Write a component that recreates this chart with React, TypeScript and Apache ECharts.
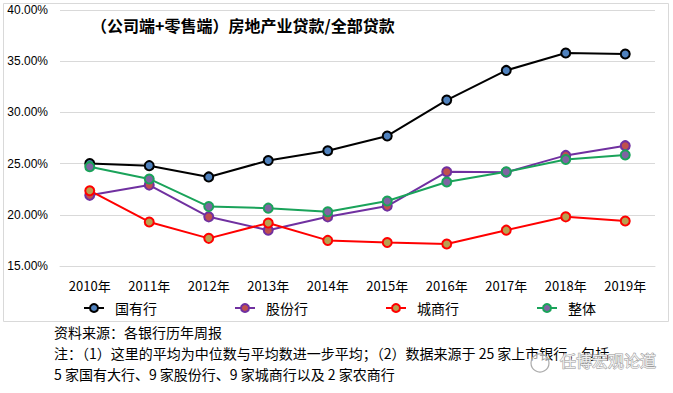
import React, { useEffect, useRef } from "react";
import * as echarts from "echarts";

const categories = ["2010年", "2011年", "2012年", "2013年", "2014年", "2015年", "2016年", "2017年", "2018年", "2019年"];
const stateOwned = [25.0, 24.8, 23.7, 25.3, 26.25, 27.7, 31.2, 34.1, 35.8, 35.7];
const jointStock = [21.9, 22.9, 19.8, 18.5, 19.8, 20.85, 24.2, 24.15, 25.8, 26.75];
const cityBanks = [22.35, 19.3, 17.7, 19.2, 17.5, 17.3, 17.15, 18.5, 19.8, 19.4];
const overall = [24.7, 23.5, 20.8, 20.65, 20.3, 21.35, 23.2, 24.2, 25.4, 25.85];
const seriesNames = ["国有行", "股份行", "城商行", "整体"];
const titleText = "（公司端+零售端）房地产业贷款/全部贷款";
const noteLines = [
  "资料来源：各银行历年周报",
  "注：（1）这里的平均为中位数与平均数进一步平均；（2）数据来源于 25 家上市银行，包括",
  "5 家国有大行、9 家股份行、9 家城商行以及 2 家农商行",
];
const watermark = "任博宏观论道";

export default function App() {
  const ref = useRef<HTMLDivElement>(null);
  useEffect(() => {
    document.body.style.margin = "0";
    const chart = echarts.init(ref.current!, undefined, { renderer: "svg" });
    const font = "'Liberation Sans', 'Noto Sans CJK SC', sans-serif";
    const cjk = "'Noto Sans CJK SC', 'Liberation Sans', sans-serif";
    const mk = (name: string, data: number[], line: string, fill: string) => ({
      name,
      type: "line",
      data,
      symbol: "circle",
      symbolSize: 9,
      lineStyle: { color: line, width: 2 },
      itemStyle: { color: fill, borderColor: line, borderWidth: 2 },
      emphasis: { disabled: true },
    });
    chart.setOption({
      animation: false,
      backgroundColor: "#ffffff",
      textStyle: { fontFamily: font },
      grid: { left: 60, right: 18, top: 10, bottom: 127 },
      legend: {
        data: seriesNames,
        left: 83,
        top: 301,
        padding: 0,
        itemWidth: 20,
        itemHeight: 10,
        itemGap: 77,
        textStyle: { fontFamily: cjk, fontSize: 14, color: "#000", padding: [0, 0, 0, 6] },
      },
      xAxis: {
        type: "category",
        data: categories,
        boundaryGap: true,
        axisLine: { lineStyle: { color: "#d9d9d9" } },
        axisTick: { show: false },
        axisLabel: { color: "#000", fontSize: 13, margin: 13, fontFamily: cjk },
      },
      yAxis: {
        type: "value",
        min: 15,
        max: 40,
        interval: 5,
        axisLine: { show: false },
        axisTick: { show: false },
        splitLine: { lineStyle: { color: "#d9d9d9" } },
        axisLabel: {
          color: "#000",
          fontSize: 12,
          margin: 12,
          formatter: (v: number) => v.toFixed(2) + "%",
        },
      },
      series: [
        mk(seriesNames[0], stateOwned, "#000000", "#4F81BD"),
        mk(seriesNames[1], jointStock, "#7030A0", "#C0504D"),
        mk(seriesNames[2], cityBanks, "#FF0000", "#B8A050"),
        mk(seriesNames[3], overall, "#1AA35A", "#8064A2"),
      ],
      graphic: [
        {
          type: "rect",
          shape: { x: 3.5, y: 3.5, width: 665, height: 318 },
          style: { fill: "none", stroke: "#d9d9d9", lineWidth: 1 },
          z: -1,
        },
        {
          type: "text",
          x: 91,
          y: 17,
          style: { text: titleText, fontSize: 16, fontWeight: "bold", fill: "#000", fontFamily: cjk },
        },
        ...noteLines.map((t, i) => ({
          type: "text",
          x: 54,
          y: 325 + i * 21,
          style: { text: t, fontSize: 14, fill: "#000", fontFamily: cjk },
        })),
        {
          type: "circle",
          shape: { cx: 540, cy: 363, r: 9 },
          style: { fill: "rgba(255,255,255,0.6)", stroke: "#aaaaaa", lineWidth: 1.2 },
          z: 10,
        },
        {
          type: "text",
          x: 560,
          y: 352,
          style: {
            text: watermark,
            fontSize: 16,
            fill: "rgba(255,255,255,0.85)",
            stroke: "#9a9a9a",
            lineWidth: 1,
            fontFamily: cjk,
          },
          z: 10,
        },
      ],
    });
    return () => chart.dispose();
  }, []);
  return (
    <div
      ref={ref}
      style={{ position: "fixed", left: 0, top: 0, width: 673, height: 393 }}
    />
  );
}
